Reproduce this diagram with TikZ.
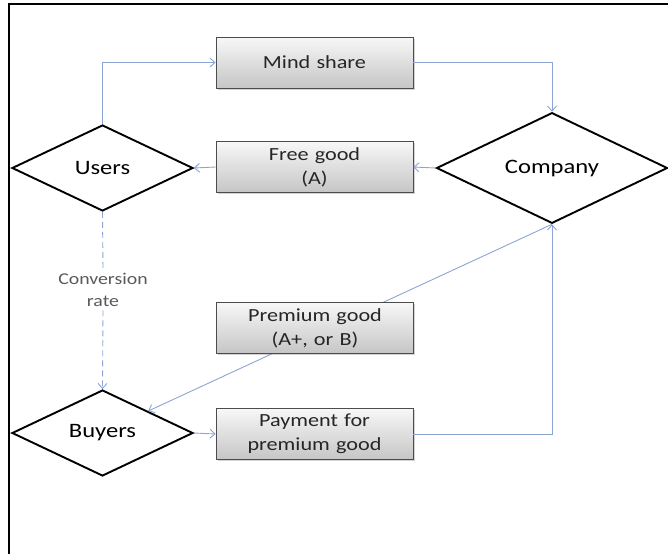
\documentclass[tikz,border=0pt]{standalone}
\usepackage{fontspec}
\setmainfont{Carlito}[FakeStretch=1.2]
\usetikzlibrary{arrows.meta,positioning,shapes.geometric,shadows}
\definecolor{linkblue}{RGB}{140,165,210}

\begin{document}
\begin{tikzpicture}[
  x=1pt, y=-1pt,
  decision/.style={draw, diamond, line width=1.9pt, fill=white, inner sep=0pt,
    minimum width=181pt, minimum height=86pt, font=\fontsize{20.5}{24}\selectfont},
  item/.style={draw=black!70, line width=0.8pt, top color=gray!6, bottom color=gray!45,
    minimum width=197pt, minimum height=51pt, text width=190pt, align=center,
    font=\fontsize{18.5}{24}\selectfont, text=black!85,
    drop shadow={shadow xshift=1.5pt, shadow yshift=-1.5pt, opacity=0.35}},
  link/.style={-{Straight Barb[length=5pt,width=9pt]}, linkblue, line width=0.9pt},
  note/.style={font=\fontsize{16.5}{22}\selectfont, text=black!65, align=center},
]
  \useasboundingbox (0,0) rectangle (668,554);
  \draw[line width=1.5pt] (9,554) -- (9,4) -- (668,4);

  % Parties
  \node[decision] (users) at (102.5,168) {Users};
  \node[decision, minimum width=231pt] (company) at (552,168) {Company};
  \node[decision] (buyers) at (102.5,433) {Buyers};

  % Premium good runs behind its box
  \draw[link] (company.south) -- (buyers.north east);

  % Flows
  \node[item] (mind) at (314.5,62.5) {Mind share};
  \node[item] (free) at (314.5,167) {Free good\\(A)};
  \node[item] (premium) at (315,328) {Premium good\\(A+, or B)};
  \node[item] (payment) at (314.5,434) {Payment for\\premium good};

  \node[note] (conv) at (103,290) {Conversion\\rate};

  % Connectors
  \draw[link] (users.north) |- (mind.west);
  \draw[link] (mind.east) -| (company.north);
  \draw[link] (company.west) -- (free.east);
  \draw[link] (free.west) -- (users.east);
  \draw[link, -, dash pattern=on 6pt off 4pt] (users.south) -- (conv.north);
  \draw[link, dash pattern=on 6pt off 4pt] (conv.south) -- (buyers.north);
  \draw[link] (buyers.east) -- (payment.west);
  \draw[link] (payment.east) -| (company.south);
\end{tikzpicture}
\end{document}
